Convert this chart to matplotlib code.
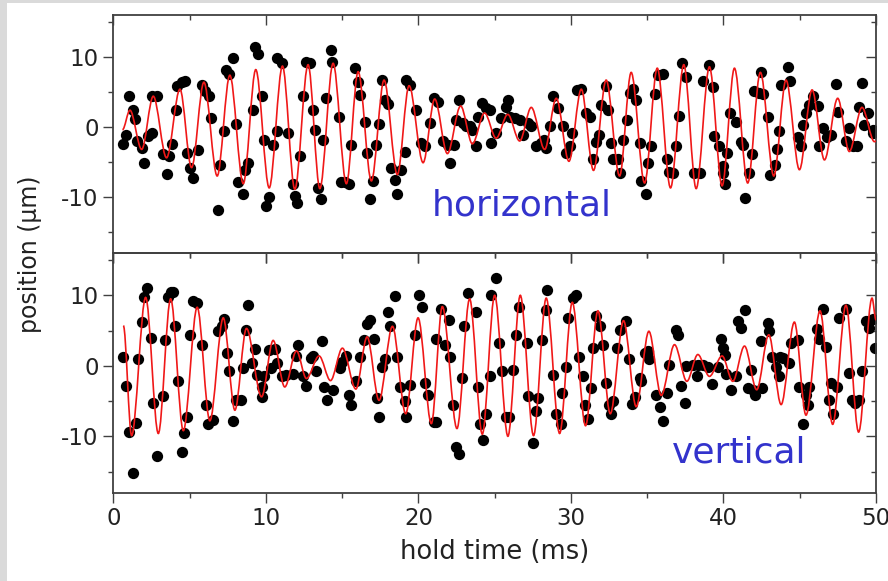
import numpy as np
import matplotlib.pyplot as plt
from matplotlib.path import Path
from matplotlib.patches import PathPatch, Rectangle

plt.rcParams['axes.unicode_minus'] = False

# horizontal oscillation: measured points (hold time ms, position um)
h_time = [0.66, 0.83, 1.05, 1.27, 1.42, 1.53, 1.86, 2.03, 2.29, 2.51, 2.51, 2.84, 3.23, 3.49, 3.67,
          3.82, 4.10, 4.15, 4.48, 4.69, 4.85, 5.02, 5.20, 5.52, 5.79, 6.00, 6.29, 6.40, 6.88, 6.99,
          7.25, 7.42, 7.60, 7.86, 8.03, 8.19, 8.47, 8.62, 8.84, 9.13, 9.28, 9.50, 9.72, 9.87, 10.04,
          10.22, 10.48, 10.70, 10.76, 11.03, 11.46, 11.79, 11.90, 12.01, 12.23, 12.45, 12.62, 12.88,
          13.06, 13.21, 13.43, 13.64, 13.76, 13.97, 14.24, 14.37, 14.80, 14.96, 15.17, 15.46, 15.61,
          15.83, 16.05, 16.16, 16.48, 16.64, 16.81, 17.03, 17.25, 17.42, 17.64, 17.79, 18.01, 18.23,
          18.45, 18.60, 18.89, 19.10, 19.21, 19.48, 19.83, 20.20, 20.41, 20.74, 21.00, 21.28, 21.61,
          21.94, 22.05, 22.31, 22.49, 22.66, 22.93, 23.14, 23.36, 23.54, 23.76, 23.91, 24.19, 24.45,
          24.67, 24.78, 25.11, 25.44, 25.72, 25.87, 25.98, 26.31, 26.64, 26.86, 27.18, 27.40, 27.73,
          28.06, 28.21, 28.38, 28.60, 28.82, 29.15, 29.48, 29.69, 29.91, 30.09, 30.39, 30.68, 30.99,
          31.27, 31.44, 31.62, 31.83, 31.99, 32.27, 32.42, 32.64, 32.79, 33.08, 33.23, 33.41, 33.69,
          33.89, 34.06, 34.28, 34.50, 34.61, 34.89, 35.04, 35.26, 35.48, 35.70, 36.03, 36.29, 36.46,
          36.68, 36.90, 37.07, 37.29, 37.55, 38.10, 38.47, 38.65, 39.04, 39.30, 39.41, 39.69, 39.96,
          40.00, 40.07, 40.24, 40.46, 40.83, 41.16, 41.31, 41.44, 41.70, 41.88, 41.97, 42.36, 42.47,
          42.58, 42.90, 43.06, 43.35, 43.50, 43.67, 43.78, 44.21, 44.37, 44.87, 45.09, 45.24, 45.41,
          45.63, 45.85, 46.18, 46.24, 46.51, 46.77, 47.05, 47.38, 47.49, 48.03, 48.25, 48.47, 48.73,
          48.86, 49.08, 49.24, 49.45, 49.78, 49.83]
h_pos = [-2.4, -1.1, 4.4, 2.4, 1.1, -2.0, -3.0, -5.1, -1.3, -0.8, 4.4, 4.4, -3.8, -6.7, -4.1,
         -2.4, 2.5, 5.9, 6.5, 6.6, -3.7, -5.8, -7.3, -3.3, 6.0, 5.1, 4.4, 1.3, -11.8, -5.4,
         -0.5, 8.2, 7.6, 9.8, 0.5, -7.9, -9.6, -6.1, -5.1, 2.4, 11.5, 10.5, 4.4, -1.8, -11.3,
         -10.0, -2.6, -0.5, 9.8, 9.1, -0.9, -8.2, -9.8, -10.8, -4.2, 4.4, 9.3, 9.1,
         2.5, -0.4, -8.7, -10.3, -1.8, 4.1, 11.0, 9.3, 1.5, -7.9, -7.9, -8.2, -2.5,
         8.4, 6.5, 4.6, 0.7, -3.7, -10.3, -7.7, -2.5, 0.5, 6.7, 3.9, 3.3, -5.8,
         -7.5, -9.6, -6.1, -3.5, 6.7, 6.0, 2.5, -2.3, -2.7, 0.6, 4.1, 3.6, -2.0,
         -2.5, -5.1, -2.5, 1.0, 3.9, 0.6, 0.1, 0.1, -0.4, -2.7, 1.5, 3.4, 2.7,
         2.5, -2.3, -0.9, 1.3, 2.9, 3.9, 1.5, 1.3, 1.0, -1.1, 0.6, 0.1, -2.7,
         -2.3, -1.8, -3.0, 0.1, 4.4, 2.7, 0.1, -3.7, -2.7, -0.9, 5.3, 5.5, 2.0,
         1.5, -4.5, -2.2, -1.1, 3.2, 5.8, 2.5, -2.3, -4.5, -4.5, -6.6, -1.8, 1.0,
         4.8, 5.5, 3.9, -2.3, -7.7, -9.5, -5.1, -2.7, 4.7, 7.4, 7.6, -4.5, -6.4,
         -6.6, -2.7, 1.6, 9.2, 7.1, -6.6, -6.5, 6.6, 8.9, 5.7, -1.3, -2.7, -6.6,
         -5.5, -8.1, -3.7, 2.0, 0.7, -2.2, -2.5, -10.2, -6.5, -3.9, 5.1, 4.8, 7.9,
         4.7, 1.4, -6.8, -5.4, -3.2, -0.6, 6.0, 8.6, 6.6, -1.4, -2.7, 0.3, 2.0,
         3.2, 4.4, 3.0, -2.7, -0.1, -1.4, -1.2, 6.2, 2.2, -2.0, -0.1, -2.7, -2.7,
         2.9, 6.3, 0.3, 2.0, -0.4, -0.9]

# horizontal fit curve: start point, then successive maxima / minima
h_fit_time = [0.60, 1.09, 1.86, 2.62, 3.49, 4.37, 5.13, 5.94, 6.81, 7.64, 8.52, 9.34, 10.22, 11.09,
              11.90, 12.77, 13.54, 14.41, 15.28, 16.05, 16.92, 17.75, 18.62, 19.39, 20.31, 21.07,
              21.90, 22.77, 23.54, 24.34, 25.10, 25.86, 26.64, 27.40, 28.28, 29.04, 29.87, 30.68,
              31.48, 32.31, 33.19, 33.95, 34.83, 35.66, 36.53, 37.40, 38.21, 39.08, 39.91, 40.72,
              41.59, 42.42, 43.30, 44.10, 44.98, 45.81, 46.62, 47.49, 48.25, 49.08, 49.90, 50.00]
h_fit_pos = [-0.4, 2.4, -3.2, 4.4, -4.4, 5.4, -5.8, 6.4, -7.0, 7.4, -8.1, 8.2, -8.7, 8.7,
             -8.9, 8.9, -8.8, 9.1, -8.1, 7.9, -7.7, 6.7, -6.8, 5.9, -5.1, 4.0,
             -3.8, 3.0, -2.4, 2.0, -1.6, 1.8, -2.0, 2.8, -3.2, 4.1, -4.9, 5.4,
             -6.2, 6.7, -7.0, 7.8, -8.0, 8.4, -8.7, 8.9, -8.8, 8.6, -8.4, 8.4,
             -8.0, 7.8, -7.0, 6.7, -6.1, 5.3, -4.7, 4.1, -3.5, 2.8, -2.1, -2.0]

# vertical oscillation: measured points
v_time = [0.66, 0.83, 1.05, 1.27, 1.48, 1.64, 1.86, 2.01, 2.23, 2.45, 2.62, 2.84, 3.23, 3.38, 3.60,
          3.76, 3.89, 4.04, 4.26, 4.48, 4.63, 4.80, 5.02, 5.20, 5.50, 5.79, 6.07, 6.22, 6.51, 6.88,
          7.10, 7.25, 7.47, 7.60, 7.86, 8.03, 8.34, 8.47, 8.69, 8.84, 9.06, 9.28, 9.43, 9.72, 9.72,
          9.87, 10.22, 10.31, 10.59, 10.74, 11.03, 11.31, 11.79, 11.97, 12.12, 12.41, 12.66, 12.93,
          13.06, 13.32, 13.65, 13.81, 14.02, 14.41, 14.89, 15.02, 15.28, 15.46, 15.61, 15.94, 16.16,
          16.42, 16.64, 16.81, 17.07, 17.29, 17.42, 17.64, 17.79, 18.01, 18.12, 18.45, 18.60, 18.78,
          19.10, 19.21, 19.48, 19.76, 20.05, 20.26, 20.41, 20.63, 21.00, 21.18, 21.18, 21.50, 21.72,
          22.01, 22.10, 22.27, 22.45, 22.66, 22.88, 22.97, 23.25, 23.76, 23.91, 24.06, 24.24, 24.45,
          24.67, 24.78, 25.11, 25.28, 25.50, 25.72, 25.94, 26.20, 26.42, 26.59, 27.12, 27.18, 27.51,
          27.68, 27.84, 28.12, 28.43, 28.38, 28.82, 29.04, 29.37, 29.43, 29.65, 29.80, 30.13, 30.31,
          30.52, 30.79, 30.90, 31.11, 31.33, 31.48, 31.66, 31.92, 32.10, 32.27, 32.49, 32.64, 32.75,
          33.01, 33.23, 33.58, 33.84, 34.02, 34.17, 34.50, 34.61, 34.83, 35.04, 35.15, 35.59, 35.81,
          36.03, 36.29, 36.42, 36.86, 37.01, 37.23, 37.51, 37.55, 37.99, 38.25, 38.32, 38.69, 38.97,
          39.26, 39.63, 39.85, 40.00, 40.07, 40.17, 40.50, 40.83, 40.94, 41.16, 41.38, 41.59, 41.81,
          41.92, 42.10, 42.47, 42.53, 42.90, 43.01, 43.19, 43.45, 43.62, 43.71, 43.93, 44.28, 44.43,
          44.87, 44.98, 45.20, 45.41, 45.52, 45.63, 46.11, 46.24, 46.51, 46.72, 46.90, 47.05, 47.20,
          47.42, 47.55, 48.03, 48.21, 48.43, 48.65, 48.86, 49.08, 49.35, 49.56, 49.78, 49.91]
v_pos = [1.3, -2.9, -9.4, -15.2, -8.1, 1.0, 6.2, 9.7, 11.1, 4.0, -5.3, -12.8, -4.3, 3.7, 9.7,
         10.4, 10.5, 5.6, -2.2, -12.2, -9.6, -7.3, 4.4, 9.2, 8.9, 3.0, -5.6, -8.3, -7.7, 4.9,
         5.6, 6.7, 1.8, -0.8, -7.8, -4.9, -4.8, -0.3, 5.1, 8.6, 0.4, 2.4, -1.3, -3.0, -4.4,
         -1.4, 2.2, -0.3, 2.4, 0.4, -1.4, -1.3, -1.1, 1.4, 2.9, -1.4, -2.9, 1.1,
         1.4, -0.7, 3.5, -3.0, -4.8, -3.4, -0.3, 0.6, 1.4, -4.2, -5.6, -2.2, 1.3,
         3.7, 6.0, 6.5, 3.8, -4.5, -7.2, -0.1, 1.0, 7.6, 5.7, 9.9, 1.3, -3.0,
         -5.0, -7.3, -2.7, 4.4, 10.0, 8.4, -2.5, -4.2, -8.0, -8.0, 3.8, 8.1, 2.9,
         6.5, 1.2, -5.5, -11.5, -12.5, -1.8, 5.7, 10.3, 7.7, -3.0, -8.2, -10.5, -6.9,
         -1.4, 10.0, 12.4, 3.2, -0.7, -7.3, -7.3, -0.6, 4.3, 8.3, 3.3, -4.3, -11.0,
         -6.4, -4.6, 3.6, 10.8, 7.9, -1.3, -6.8, -8.3, -3.9, -0.2, 6.8, 9.6, 10.0,
         1.2, -1.4, -5.6, -7.5, -3.1, 2.5, 7.1, 5.6, 3.0, -2.5, -5.5, -6.8, -5.0,
         2.5, 5.1, 6.4, 0.9, -5.4, -4.4, -1.8, -2.2, 1.8, 2.1, 0.9, -4.2, -5.8,
         -7.8, -3.8, 0.1, 5.1, 4.3, -2.9, -5.3, 0.0, 0.1, -1.4, 0.1, 0.1, -0.1,
         -2.6, -0.1, 3.8, 2.5, 1.6, -1.1, -3.4, -1.4, 6.4, 5.3, 7.9, -3.1, -0.6,
         -3.4, -4.2, 3.5, -3.1, 6.1, 4.9, 1.2, -0.1, -1.4, 1.3, 1.1, 0.4, 3.3,
         3.7, -3.0, -8.2, -4.2, -5.6, -3.0, 5.2, 3.8, 8.1, 2.7, -4.9, -2.5, -6.9,
         -3.0, 6.8, 8.1, -1.0, -4.8, -5.3, -4.9, -0.7, 6.4, 5.3, 6.6, 2.5]

# vertical fit curve: start point, then successive maxima / minima
v_fit_time = [0.66, 1.20, 2.12, 2.95, 3.76, 4.59, 5.50, 6.33, 7.21, 7.97, 8.73, 9.72, 10.48, 11.24,
              12.01, 12.66, 13.49, 14.24, 15.02, 15.90, 16.64, 17.42, 18.30, 19.17, 19.98, 20.85,
              21.57, 22.53, 23.36, 24.19, 25.00, 25.87, 26.68, 27.55, 28.38, 29.26, 30.09, 30.96,
              31.77, 32.58, 33.45, 34.28, 35.11, 35.92, 36.79, 37.60, 38.32, 39.08, 39.91, 40.61,
              41.38, 42.18, 42.97, 43.78, 44.65, 45.41, 46.33, 47.16, 48.03, 48.86, 49.74, 50.00]
v_fit_pos = [5.7, -9.9, 9.7, -9.6, 9.5, -9.2, 8.3, -7.8, 6.8, -6.3, 5.3, -4.4, 3.6, -3.0,
             2.1, -1.8, 1.4, -2.1, 2.5, -3.3, 4.1, -4.9, 5.6, -6.8, 6.8, -8.2,
             8.4, -8.9, 9.5, -9.7, 10.0, -10.0, 10.0, -9.9, 9.6, -9.6, 9.0, -8.5,
             7.8, -6.8, 6.4, -5.8, 4.9, -4.2, 3.0, -2.2, 1.6, -1.5, 1.4, -2.2,
             2.8, -3.4, 4.4, -5.5, 6.2, -7.0, 7.8, -8.3, 8.6, -9.4, 9.6, 6.5]


def fit_path(ts, vs):
    # cubic segments with flat tangents at each turning point
    verts = [(ts[0], vs[0])]
    codes = [Path.MOVETO]
    for i in range(1, len(ts)):
        dt = ts[i] - ts[i - 1]
        verts += [(ts[i - 1] + dt / 3, vs[i - 1]), (ts[i] - dt / 3, vs[i]), (ts[i], vs[i])]
        codes += [Path.CURVE4] * 3
    return Path(verts, codes)


W, H = 888, 581
fig = plt.figure(figsize=(W / 100, H / 100), dpi=100)
fig.patch.set_facecolor('#dadada')
fig.patches.append(Rectangle((7 / W, 0), 1 - 7 / W, 1 - 3 / H, transform=fig.transFigure,
                             facecolor='white', edgecolor='none', zorder=-10))

left, right = 113.3 / W, 876 / W
ax1 = fig.add_axes([left, 1 - 253 / H, right - left, (253 - 15) / H])
ax2 = fig.add_axes([left, 1 - 492.7 / H, right - left, (492.7 - 253) / H], sharex=ax1)

for ax, t, p, ft, fp in [(ax1, h_time, h_pos, h_fit_time, h_fit_pos),
                         (ax2, v_time, v_pos, v_fit_time, v_fit_pos)]:
    ax.scatter(t, p, s=66, color='black', linewidths=0, zorder=2)
    ax.add_patch(PathPatch(fit_path(ft, fp), facecolor='none', edgecolor='#f01818',
                           lw=1.2, zorder=3))
    ax.set_xlim(0, 50)
    ax.set_ylim(-18, 16)
    ax.set_yticks([-10, 0, 10])
    ax.set_yticks([-15, -5, 5, 15], minor=True)
    ax.set_xticks([0, 10, 20, 30, 40, 50])
    ax.set_xticks(np.arange(5, 50, 10), minor=True)
    ax.tick_params(which='both', direction='out', width=1.0, color='#404040',
                   labelsize=16.5, labelcolor='#222222')
    ax.tick_params(which='major', length=7)
    ax.tick_params(which='minor', length=3.6)
    ax.tick_params(which='both', top=True, right=True)
    for sp in ax.spines.values():
        sp.set_color('#404040')
        sp.set_linewidth(1.3)
    ax.patch.set_alpha(0)
    # mirrored ticks on top/right point into the plot
    for tk in ax.xaxis.get_major_ticks() + ax.xaxis.get_minor_ticks():
        tk.tick2line.set_marker(3)
    for tk in ax.yaxis.get_major_ticks() + ax.yaxis.get_minor_ticks():
        tk.tick2line.set_marker(0)

ax1.tick_params(labelbottom=False)

ax1.text(20.87, -12.7, 'horizontal', color='#3333cc', fontsize=26, ha='left', va='baseline')
ax2.text(36.6, -13.7, 'vertical', color='#3333cc', fontsize=26, ha='left', va='baseline')

ax2.set_xlabel('hold time (ms)', fontsize=18.5, color='#222222', labelpad=6)
fig.text(30 / W, 1 - 254 / H, 'position (µm)', rotation=90, fontsize=17, color='#222222',
         ha='center', va='center')

plt.savefig('out.png', dpi=100, facecolor=fig.get_facecolor())
